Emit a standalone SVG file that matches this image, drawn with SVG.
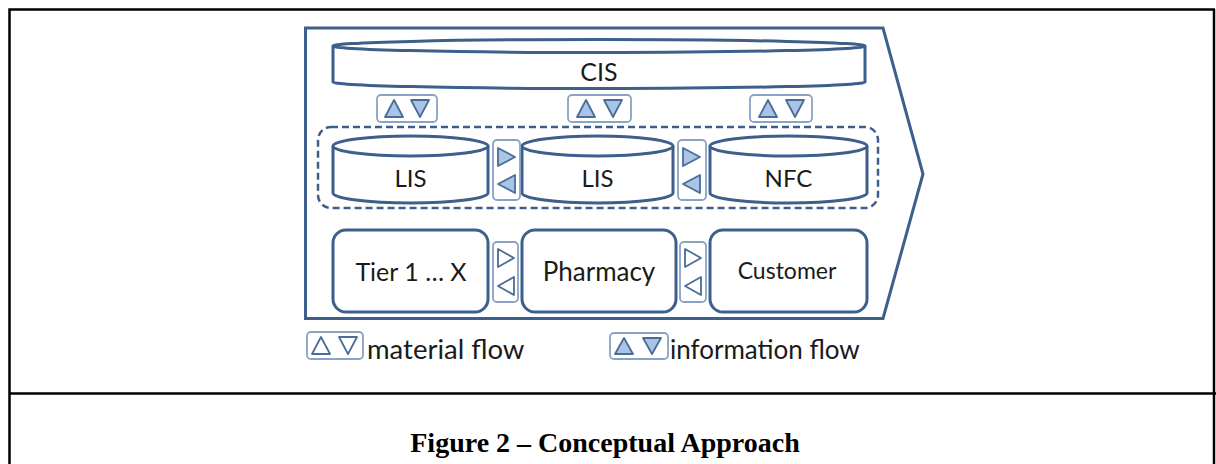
<svg xmlns="http://www.w3.org/2000/svg" width="1216" height="464" viewBox="0 0 1216 464">
  <style>
    .frame { fill: none; stroke: #000; stroke-width: 2.5; }
    .shape { fill: #fff; stroke: #3d5f8c; stroke-width: 3; }
    .dash { fill: none; stroke: #3d5f8c; stroke-width: 2.5; stroke-dasharray: 7 4; }
    .conn { fill: #fff; stroke: #8aa3c4; stroke-width: 1.8; }
    .tri-info { fill: #a9c4e6; stroke: #4a6c98; stroke-width: 1.8; stroke-linejoin: round; }
    .tri-mat { fill: #fff; stroke: #4a6c98; stroke-width: 1.8; stroke-linejoin: round; }
    .lbl { font-family: Lato, "Liberation Sans", sans-serif; fill: #1a1a1a; text-anchor: middle; }
    .leg { font-family: Lato, "Liberation Sans", sans-serif; fill: #1a1a1a; font-size: 26px; }
    .cap { font-family: "Liberation Serif", serif; font-weight: bold; font-size: 28px; fill: #000; text-anchor: middle; }
  </style>

  <!-- table frame -->
  <g id="frame">
    <polyline class="frame" points="1215,9.5 9.5,9.5 9.5,464"/>
    <line class="frame" x1="1214" y1="9" x2="1214" y2="464"/>
    <line class="frame" x1="9" y1="393.5" x2="1216" y2="393.5"/>
  </g>

  <!-- chevron enclosing the supply chain -->
  <g id="chevron">
    <polygon class="shape" points="305.5,28 883,28 923,174 883,318.5 305.5,318.5" style="fill:none"/>
  </g>

  <!-- CIS: flat cylinder across the top -->
  <g id="cis">
    <path class="shape" d="M333,46 L333,82 A266,6.5 0 0 0 865,82 L865,46"/>
    <ellipse class="shape" cx="599" cy="46" rx="266" ry="6.5"/>
    <text class="lbl" x="599" y="81" font-size="25">CIS</text>
  </g>

  <!-- information flow markers between CIS and lower layer -->
  <g id="info1">
    <rect class="conn" x="377" y="95" width="60" height="27" rx="4"/>
    <polygon class="tri-info" points="385,117 403,117 394,100"/>
    <polygon class="tri-info" points="411,100 429,100 420,117"/>
  </g>
  <g id="info2">
    <rect class="conn" x="568" y="95" width="63" height="27" rx="4"/>
    <polygon class="tri-info" points="577,117 595,117 586,100"/>
    <polygon class="tri-info" points="604,100 622,100 613,117"/>
  </g>
  <g id="info3">
    <rect class="conn" x="750" y="95" width="62" height="27" rx="4"/>
    <polygon class="tri-info" points="759,117 777,117 768,100"/>
    <polygon class="tri-info" points="786,100 804,100 795,117"/>
  </g>

  <!-- dashed grouping of local information systems -->
  <g id="lis-group">
    <rect class="dash" x="318" y="127" width="560" height="81" rx="13"/>
  </g>

  <!-- LIS / LIS / NFC cylinders -->
  <g id="lis1">
    <path class="shape" d="M333,146 L333,193 A77.5,10 0 0 0 488,193 L488,146"/>
    <ellipse class="shape" cx="410.5" cy="146" rx="77.5" ry="10"/>
    <text class="lbl" x="410.5" y="187" font-size="24">LIS</text>
  </g>
  <g id="lis2">
    <path class="shape" d="M522,146 L522,193 A75.5,10 0 0 0 673,193 L673,146"/>
    <ellipse class="shape" cx="597.5" cy="146" rx="75.5" ry="10"/>
    <text class="lbl" x="597.5" y="187" font-size="24">LIS</text>
  </g>
  <g id="nfc">
    <path class="shape" d="M710,146 L710,193 A78.5,10 0 0 0 867,193 L867,146"/>
    <ellipse class="shape" cx="788.5" cy="146" rx="78.5" ry="10"/>
    <text class="lbl" x="788.5" y="187" font-size="24">NFC</text>
  </g>

  <!-- information flow markers between cylinders -->
  <g id="info4">
    <rect class="conn" x="493" y="140" width="27" height="60" rx="4"/>
    <polygon class="tri-info" points="498,148 498,166 515,157"/>
    <polygon class="tri-info" points="515,175 515,193 498,184"/>
  </g>
  <g id="info5">
    <rect class="conn" x="678" y="140" width="28" height="60" rx="4"/>
    <polygon class="tri-info" points="683,148 683,166 700,157"/>
    <polygon class="tri-info" points="700,175 700,193 683,184"/>
  </g>

  <!-- physical supply chain actors -->
  <g id="tier">
    <rect class="shape" x="333" y="230" width="155" height="82" rx="13"/>
    <text class="lbl" x="411" y="281" font-size="25">Tier 1 … X</text>
  </g>
  <g id="pharmacy">
    <rect class="shape" x="522" y="230" width="154" height="82" rx="13"/>
    <text class="lbl" x="599" y="281" font-size="26">Pharmacy</text>
  </g>
  <g id="customer">
    <rect class="shape" x="710" y="230" width="157" height="82" rx="13"/>
    <text class="lbl" x="787" y="279" font-size="23">Customer</text>
  </g>

  <!-- material flow markers between actors -->
  <g id="mat1">
    <rect class="conn" x="493" y="242" width="25" height="60" rx="4"/>
    <polygon class="tri-mat" points="498,249 498,267 514,258"/>
    <polygon class="tri-mat" points="514,277 514,295 498,286"/>
  </g>
  <g id="mat2">
    <rect class="conn" x="680" y="242" width="26" height="60" rx="4"/>
    <polygon class="tri-mat" points="685,249 685,267 701,258"/>
    <polygon class="tri-mat" points="701,277 701,295 685,286"/>
  </g>

  <!-- legend -->
  <g id="legend-material">
    <rect class="conn" x="307" y="332" width="56" height="27" rx="4"/>
    <polygon class="tri-mat" points="312,354 330,354 321,337"/>
    <polygon class="tri-mat" points="339,337 357,337 348,354"/>
    <text class="leg" x="367" y="359" font-size="27" style="font-size:27.5px">material flow</text>
  </g>
  <g id="legend-information">
    <rect class="conn" x="610" y="333" width="58" height="26" rx="4"/>
    <polygon class="tri-info" points="615,354 633,354 624,338"/>
    <polygon class="tri-info" points="643,338 661,338 652,354"/>
    <text class="leg" x="670" y="359">information flow</text>
  </g>

  <!-- caption -->
  <text class="cap" x="605" y="452">Figure 2 – Conceptual Approach</text>
</svg>
